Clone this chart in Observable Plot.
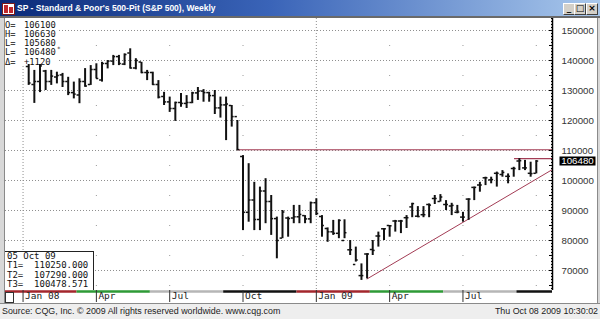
<!DOCTYPE html>
<html><head><meta charset="utf-8">
<script src="https://cdn.jsdelivr.net/npm/d3@7"></script>
<script src="https://cdn.jsdelivr.net/npm/@observablehq/plot@0.6"></script>
<style>
html,body{margin:0;padding:0;background:#ececec;}
#wrap{position:relative;width:600px;height:319px;overflow:hidden;font-family:"Liberation Sans",Arial,sans-serif;background:#ececec;}
#chart{position:absolute;left:0;top:18px;width:600px;height:285px;}
#titlebar{position:absolute;left:0;top:0;width:600px;height:16px;background:linear-gradient(to right,#0b2a78 0%,#3a64b8 45%,#a9c8ec 100%);border-bottom:2px solid #6a6a6a;}
#icon{position:absolute;left:2px;top:3px;width:11px;height:10px;background:#fff;border:1px solid #7a1a1a;}
#icon:before{content:"";position:absolute;left:1px;top:1px;width:4px;height:8px;background:#c0282c;}
#icon:after{content:"";position:absolute;left:6px;top:3px;width:4px;height:6px;background:#c0282c;}
#ttl{position:absolute;left:17px;top:0;line-height:17px;font-size:8.5px;font-weight:bold;color:#fff;white-space:nowrap;}
.btn{position:absolute;top:3px;width:10px;height:10px;background:#d4d0c8;border:1px solid;border-color:#fff #404040 #404040 #fff;font:bold 9px/9px "DejaVu Sans",sans-serif;color:#000;text-align:center;}
#leftedge{position:absolute;left:0;top:18px;width:4px;height:286px;background:#d8d8d8;border-right:1px solid #8a8a8a;}
#rightedge{position:absolute;left:597px;top:18px;width:3px;height:286px;background:#d8d8d8;border-left:1px solid #8a8a8a;}
#databox{position:absolute;left:5px;top:18px;width:54px;height:46px;background:#fff;font-family:"DejaVu Sans Mono",monospace;font-size:8.8px;color:#111;}
#databox .row{position:absolute;left:0;height:9px;line-height:9px;white-space:nowrap;}
#databox .k{position:absolute;left:0;top:0;}
#databox .v{position:absolute;left:19px;top:0;}
#databox .star{position:absolute;left:52px;top:-2px;font-size:6px;line-height:6px;}
#tbox{position:absolute;left:5px;top:251px;width:86px;height:38px;background:#fff;border-top:1px solid #222;border-right:1px solid #222;font-family:"DejaVu Sans Mono",monospace;font-size:9px;line-height:9.4px;color:#111;padding-left:2px;box-sizing:content-box;white-space:pre;}
#scrollbox{position:absolute;left:5px;top:292px;width:7px;height:9px;background:#fff;border:1px solid #333;}
#botline{position:absolute;left:0;top:303px;width:600px;height:1px;background:#8a8a8a;}
#footer{position:absolute;left:0;top:304px;width:600px;height:15px;background:#eeeeee;font-size:8.9px;color:#222;}
#src{position:absolute;left:2px;top:2px;white-space:nowrap;}
#stamp{position:absolute;right:2px;top:2px;white-space:nowrap;}
</style>
</head>
<body>
<div id="wrap">
  <div id="chart"></div>
  <div id="titlebar">
    <div id="icon"></div>
    <span id="ttl">SP - Standard &amp; Poor's 500-Pit (S&amp;P 500), Weekly</span>
    <div class="btn" style="left:563px">_</div>
    <div class="btn" style="left:574px">□</div>
    <div class="btn" style="left:586px">×</div>
  </div>
  <div id="leftedge"></div>
  <div id="rightedge"></div>
  <div id="databox"></div>
  <div id="tbox"></div>
  <div id="scrollbox"></div>
  <div id="botline"></div>
  <div id="footer"><span id="src">Source: CQG, Inc. © 2009 All rights reserved worldwide. www.cqg.com</span><span id="stamp">Thu Oct 08 2009 10:30:02</span></div>
</div>
<script>
// ---------- DATA ----------
// Weekly bars, week of 14 Jan 2008 through week of 5 Oct 2009
const firstWeek = "2008-01-14";
const lastWeek = "2009-10-05";
const opens = [138000,132000,133000,136500,133000,134500,135200,133000,129300,128500,
  133000,132000,137000,133500,139000,139800,141300,138800,142500,137500,
  139500,136000,136000,132000,128000,126200,124000,126000,125700,126000,
  129200,129800,129300,128300,124200,125200,125000,121300,108000,89400,
  93500,87000,96500,93000,87300,80800,87500,87500,87900,88300,
  87200,92600,88000,84000,82900,82400,80000,76900,72000,68300,
  75500,77000,81500,83900,85000,86500,86500,87600,91200,88100,
  88600,92000,94000,93000,92000,91500,89400,87800,93800,97700,
  98500,100900,100200,102400,102000,101400,104000,106500,104200,102400,
  102400];
const highs = [139000,136700,138700,136700,136700,136100,135700,134400,132800,133900,
  137300,138300,138900,139400,140000,141700,141700,142200,143900,140600,
  139400,136700,136100,133300,129400,127800,126100,129000,128300,129400,
  131000,130300,129400,130000,127800,127800,125000,120000,108300,105600,
  99400,97800,100600,95000,87800,90000,87800,91700,91700,88300,
  92800,93900,88300,84200,86700,86900,86900,80000,77800,72200,
  75600,80000,82800,84000,85000,86700,86700,88300,92400,91300,
  91300,92200,95000,95300,93300,92400,91700,89400,93900,97800,
  99400,101100,101100,102800,103300,102200,104400,107290,106700,106100,
  106630];
const lows = [131700,125700,129300,130000,131700,132200,131000,128300,127200,125600,
  131100,131700,133900,132800,137200,138300,138300,138300,137200,136900,
  135600,133300,131700,127200,125000,122700,119700,124400,124000,125600,
  126700,126100,126100,122000,120800,113300,117800,110000,83300,86100,
  83300,83300,85600,81700,73900,80600,81100,85600,85600,85600,
  85600,88300,81100,79400,81700,80600,80600,75000,72800,66700,
  67200,75000,77800,80000,81100,82800,82300,84000,87600,87600,
  87600,87600,92000,92800,90000,88300,88900,86100,86700,93300,
  96100,98300,98900,97800,101100,98900,101100,103300,103300,101100,
  102200];
const closes = [132500,133000,138200,133000,134800,135000,133000,129300,128800,133000,
  131500,137000,134000,139000,139800,141300,139000,142000,137500,140000,
  136000,136000,132000,127800,126200,124000,126000,125700,126000,129200,
  129800,129300,128300,124200,125200,125500,121300,110300,89400,93500,
  87000,96500,93000,87300,80000,89500,87300,87900,88700,87200,
  92600,89000,85000,82900,82400,86700,82600,76900,73500,68300,
  75500,76700,81500,83900,84900,86500,86500,87600,92300,88000,
  88600,91800,94000,94500,92000,91700,89500,87800,93800,97700,
  98500,100900,100300,102400,102700,101400,104000,106600,104200,102300,
  106480];

// Price / time axis
const yLabelValues = [70000,80000,90000,100000,110000,120000,130000,140000,150000];
const quarterTickDates = ["2008-01-07","2008-04-07","2008-07-07","2008-10-06","2009-01-05","2009-04-06","2009-07-06"];
const quarterTickLabels = ["Jan 08","Apr","Jul","Oct","Jan 09","Apr","Jul"];
const yearGridDates = ["2008-01-07","2009-01-05"];
const quarterDotDates = ["2008-04-07","2008-07-07","2008-10-06","2009-04-06","2009-07-06","2009-10-05"];
const midLevels = [65000,75000,85000,95000,105000,115000,125000,135000,145000];

// Contract roll dates (front-month colour band) and colours
const rollDates = ["2008-03-14","2008-06-13","2008-09-12","2008-12-12","2009-03-13","2009-06-12","2009-09-11"];
const contractColors = ["#a3262c","#2e9a36","#b6b6b6","#111111","#a3262c","#2e9a36","#b6b6b6","#111111"];

// Study lines T1, T2 (horizontal) and T3 (trend line)
const tNames = ["T1=","T2=","T3="];
const tValues = [110250.000, 107290.000, 100478.571];
const tLevelStarts = ["2008-09-29","2009-09-08"];
const trendStart = {date: "2009-03-09", value: 67200};
const trendEndDate = "2009-10-05";
const studyDate = "05 Oct 09";

// Quote box
const quoteLabels = ["O=","H=","L=","L=","Δ="];
const quoteValues = ["106100","106630","105680","106480","+1120"];
const lastPrice = 106480;

// ---------- BUILD ----------
const weeks = d3.utcMonday.range(new Date(firstWeek), d3.utcDay.offset(new Date(lastWeek), 1));
const bars = weeks.map((date, i) => ({date, open: opens[i], high: highs[i], low: lows[i], close: closes[i]}));

const xDomain = [new Date("2007-12-16T05:00Z"), new Date("2009-10-25T03:00Z")];
const yDomain = [63333, 154000];

const qTicks = quarterTickDates.map((d, i) => ({date: new Date(d), label: quarterTickLabels[i]}));
const midDots = quarterDotDates.flatMap(d => midLevels.map(v => ({date: new Date(d), value: v})));
const segStarts = [xDomain[0], ...rollDates.map(d => new Date(d))];
const segEnds = [...rollDates.map(d => new Date(d)), xDomain[1]];
const contracts = segStarts.map((s, i) => ({start: s, end: segEnds[i], color: contractColors[i]}));
const levelLines = tLevelStarts.map((d, i) => ({start: new Date(d), value: tValues[i]}));

const t0 = new Date(trendStart.date), t1 = new Date(trendEndDate);
const slope = (tValues[2] - trendStart.value) / (t1 - t0);
const trendPts = [
  {date: t0, value: trendStart.value},
  {date: xDomain[1], value: tValues[2] + slope * (xDomain[1] - t1)}
];

const minorTicks = d3.range(64000, 154001, 1000);
const fiveTicks = d3.range(65000, 154001, 5000);
const rectSym = {draw(ctx) { ctx.rect(-18, -4.5, 36, 9); }};
const HOURS = 72;
const grid = "#8e8e8e";
const studyColor = "#a33c55";

const plot = Plot.plot({
  width: 600, height: 285,
  marginLeft: 5, marginRight: 48, marginTop: 0, marginBottom: 13,
  style: {background: "white", fontFamily: "'Liberation Sans', Arial, sans-serif", fontSize: "9.7px", overflow: "visible"},
  x: {type: "utc", domain: xDomain, label: null},
  y: {domain: yDomain, label: null},
  color: {type: "identity"},
  marks: [
    Plot.ruleY(yLabelValues, {stroke: grid, strokeDasharray: "1,2"}),
    Plot.ruleX(yearGridDates.map(d => new Date(d)), {stroke: grid, strokeDasharray: "1,2"}),
    Plot.dot(midDots, {x: "date", y: "value", r: 0.6, fill: grid, stroke: null}),
    Plot.ruleY(levelLines, {y: "value", x1: "start", x2: () => xDomain[1], stroke: studyColor, strokeWidth: 1.2}),
    Plot.line(trendPts, {x: "date", y: "value", stroke: studyColor, strokeWidth: 1}),
    Plot.ruleX(bars, {x: "date", y1: "low", y2: "high", stroke: "#111", strokeWidth: 2}),
    Plot.ruleY(bars, {y: "open", x1: d => d3.utcHour.offset(d.date, -HOURS), x2: "date", stroke: "#111", strokeWidth: 1.5}),
    Plot.ruleY(bars, {y: "close", x1: "date", x2: d => d3.utcHour.offset(d.date, HOURS), stroke: "#111", strokeWidth: 1.5}),
    Plot.ruleY(contracts, {x1: "start", x2: "end", y: () => yDomain[0], dy: 1, stroke: "color", strokeWidth: 2.5}),
    Plot.ruleX([xDomain[1]], {stroke: "#000", strokeWidth: 1.5}),
    Plot.axisY({anchor: "right", ticks: minorTicks, tickSize: 2, dx: -2, tickFormat: () => "", color: "#000", label: null}),
    Plot.axisY({anchor: "right", ticks: fiveTicks, tickSize: 4, dx: -4, tickFormat: () => "", color: "#000", label: null}),
    Plot.axisY({anchor: "right", ticks: yLabelValues, tickSize: 0, tickPadding: 9, tickFormat: d3.format("d"), color: "#333", label: null}),
    Plot.axisX({ticks: qTicks.map(d => d.date), tickSize: 12, tickFormat: () => "", color: "#333", label: null}),
    Plot.text(qTicks, {x: "date", text: "label", frameAnchor: "bottom", dy: 8, dx: 2, textAnchor: "start", fontFamily: "DejaVu Sans Mono", fontSize: 9.5, fill: "#222"}),
    Plot.dot([lastPrice], {y: d => d, frameAnchor: "right", dx: 25, symbol: rectSym, fill: "#000", stroke: null}),
    Plot.text([lastPrice], {y: d => d, text: d => String(d), frameAnchor: "right", dx: 25, textAnchor: "middle", fill: "#fff", fontSize: 9.7})
  ]
});
document.getElementById("chart").appendChild(plot);

// Quote box
const db = document.getElementById("databox");
quoteLabels.forEach((k, i) => {
  const row = document.createElement("div");
  row.className = "row";
  row.style.top = (2.7 + i * 9.2) + "px";
  const ks = document.createElement("span"); ks.className = "k"; ks.textContent = k;
  const vs = document.createElement("span"); vs.className = "v"; vs.textContent = quoteValues[i];
  row.appendChild(ks); row.appendChild(vs);
  if (i === 3) { const s = document.createElement("span"); s.className = "star"; s.textContent = "*"; row.appendChild(s); }
  db.appendChild(row);
});
// Study values box
document.getElementById("tbox").textContent =
  [studyDate, ...tNames.map((n, i) => n + "  " + tValues[i].toFixed(3))].join("\n");
</script>
</body></html>
